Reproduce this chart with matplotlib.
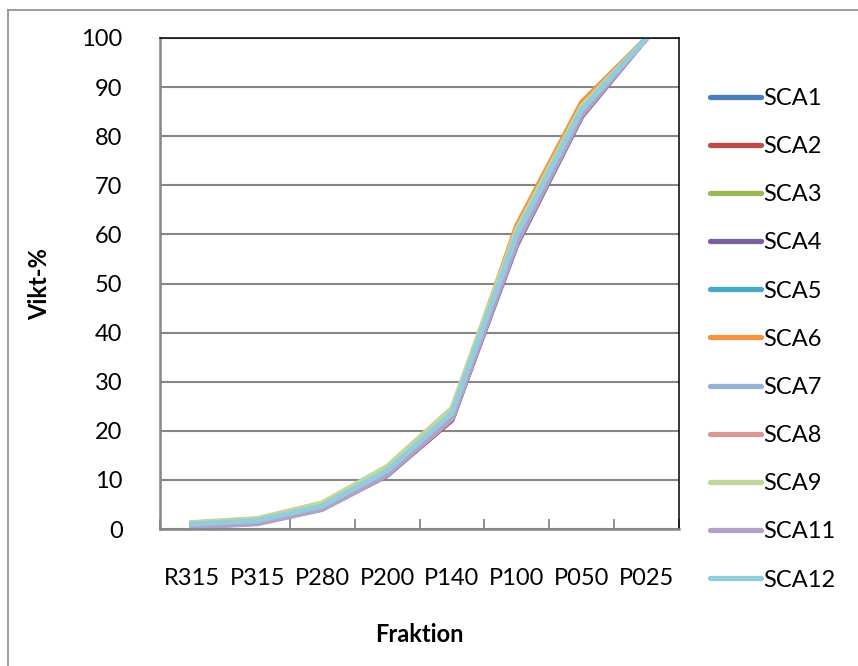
import matplotlib
matplotlib.use("Agg")
import matplotlib.pyplot as plt
from matplotlib.lines import Line2D

plt.rcParams['font.family'] = ['Lato', 'DejaVu Sans']

# fractions on the x axis
fractions = ["R315", "P315", "P280", "P200", "P140", "P100", "P050", "P025"]

# cumulative weight-% per sample
sca1 = [0.9, 1.6, 4.6, 11.7, 23.3, 59.5, 85.2, 100]
sca2 = [0.6, 1.3, 4.3, 11.0, 22.2, 58.6, 84.5, 100]
sca3 = [1.2, 2.0, 5.2, 12.4, 24.2, 60.8, 86.0, 100]
sca4 = [0.5, 1.2, 4.1, 10.9, 22.4, 57.9, 84.0, 100]
sca5 = [0.9, 1.7, 4.7, 11.9, 23.5, 60.0, 85.6, 100]
sca6 = [1.0, 1.8, 4.9, 12.1, 23.6, 61.8, 86.9, 100]
sca7 = [0.8, 1.5, 4.5, 11.6, 23.1, 59.2, 85.0, 100]
sca8 = [0.6, 1.3, 4.3, 11.2, 22.6, 59.0, 84.8, 100]
sca9 = [1.3, 2.1, 5.3, 12.7, 24.6, 61.0, 86.1, 100]
sca11 = [0.4, 1.1, 4.0, 11.0, 22.5, 58.3, 84.3, 100]
sca12 = [1.0, 1.7, 4.7, 11.9, 23.6, 60.0, 85.4, 100]

names = ["SCA1", "SCA2", "SCA3", "SCA4", "SCA5", "SCA6",
         "SCA7", "SCA8", "SCA9", "SCA11", "SCA12"]
series = [sca1, sca2, sca3, sca4, sca5, sca6, sca7, sca8, sca9, sca11, sca12]
colors = ['#4A7EBB', '#BE4B48', '#98B954', '#7D60A0', '#46AAC5', '#F69240',
          '#95B3D7', '#D99795', '#C3D69B', '#B3A2C7', '#93CDDD']

W, H = 858, 666
fig = plt.figure(figsize=(W/100, H/100), dpi=100)
ax = fig.add_axes([160/W, 1-529/H, (679-160)/W, (529-38)/H])

x = range(len(fractions))
for name, vals, c in zip(names, series, colors):
    ax.plot(x, vals, color=c, lw=3.8, label=name, solid_joinstyle='miter')

ax.set_xlim(-0.5, len(fractions)-0.5)
ax.set_ylim(0, 100)
ax.set_yticks(range(0, 101, 10))
ax.set_xticks(list(x))
ax.set_xticklabels(fractions)
ax.set_xticks([i-0.5 for i in range(len(fractions)+1)], minor=True)
ax.tick_params(axis='x', which='major', length=0, pad=28, labelsize=17)
ax.tick_params(axis='x', which='minor', direction='in', length=7, width=1.3, color='#868686')
ax.tick_params(axis='y', length=0, pad=27, labelsize=17)
ax.yaxis.grid(True, color='#868686', lw=1.5)
ax.set_axisbelow(True)

for s in ['left', 'bottom']:
    ax.spines[s].set_color('#868686')
    ax.spines[s].set_linewidth(1.8)
for s in ['top', 'right']:
    ax.spines[s].set_color('black')
    ax.spines[s].set_linewidth(1.1)

fig.text(419/W, 1-634/H, "Fraktion", ha='center', va='center', fontsize=17, fontweight='bold')
fig.text(40/W, 1-284/H, "Vikt-%", ha='center', va='center', rotation=90, fontsize=17, fontweight='bold')

leg = ax.legend(loc='upper left', bbox_to_anchor=(710/W, 1-88/H), bbox_transform=fig.transFigure,
                frameon=False, fontsize=17, handlelength=2.15, handletextpad=0.1,
                labelspacing=1.15, borderpad=0, borderaxespad=0)
for ln in leg.get_lines():
    ln.set_linewidth(3.8)
    ln.set_solid_capstyle('round')

# chart area border (only left and top visible in the crop)
fig.add_artist(Line2D([8/W, 8/W], [0, 1-10/H], color='#8C8C8C', lw=1.2, transform=fig.transFigure))
fig.add_artist(Line2D([8/W, 1], [1-10/H, 1-10/H], color='#8C8C8C', lw=1.2, transform=fig.transFigure))

fig.savefig("out.png", dpi=100)
